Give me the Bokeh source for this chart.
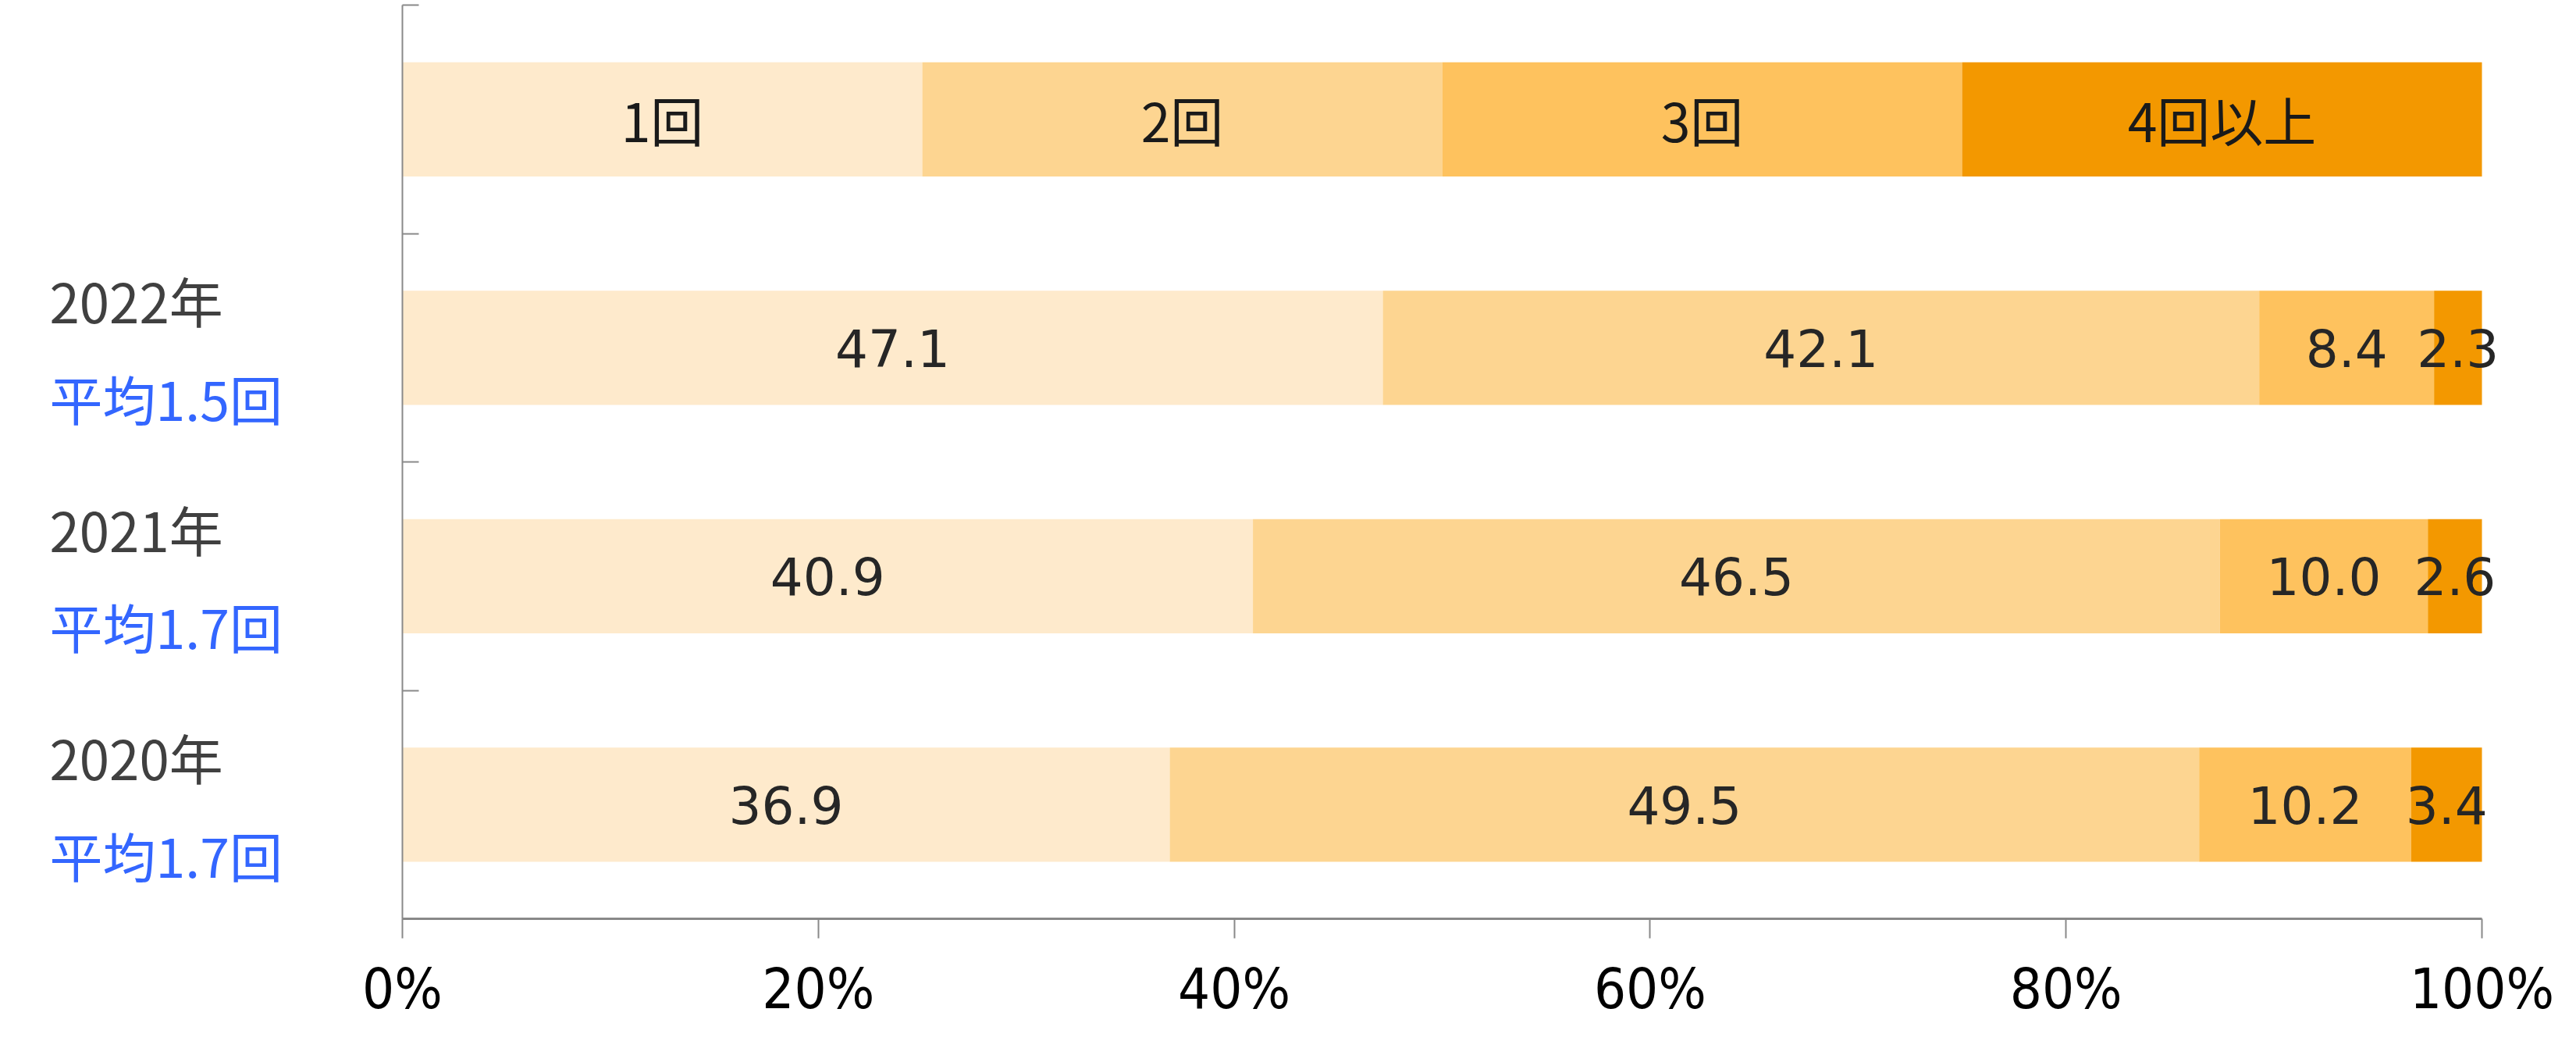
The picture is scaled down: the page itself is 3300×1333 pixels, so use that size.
from bokeh.plotting import figure
from bokeh.models import Range1d, FixedTicker, ColumnDataSource
from bokeh.layouts import row
from bokeh.embed import file_html
from bokeh.resources import INLINE
from bokeh.core.properties import value

# ---- data ----
years = ["2022年", "2021年", "2020年"]
averages = ["平均1.5回", "平均1.7回", "平均1.7回"]
series = ["1回", "2回", "3回", "4回以上"]
s1 = [47.1, 40.9, 36.9]
s2 = [42.1, 46.5, 49.5]
s3 = [8.4, 10.0, 10.2]
s4 = [2.3, 2.6, 3.4]
tick_values = [0, 20, 40, 60, 80, 100]
tick_labels = ["0%", "20%", "40%", "60%", "80%", "100%"]
colors = ["#FEEACC", "#FDD591", "#FEC25E", "#F39800"]

H = 1325
LEFT_W = 435
MAIN_W = 3296 - LEFT_W
TOP, BOTTOM = 6, 149
BORDER_L, BORDER_R = 80, 11
SCALE_W = 2664                      # pixels spanned by 0..100 %
frame_w = MAIN_W - BORDER_L - BORDER_R
x_end = 100 * frame_w / SCALE_W     # room for labels overhanging 100 %

n = len(years)
rows = list(zip(s1, s2, s3, s4))
ycent = [n - i - 0.5 for i in range(n)]   # band centres for years
legend_y = n + 0.5                       # legend row on top
yr = Range1d(0, n + 1)

# ---------------- main chart ----------------
p = figure(width=MAIN_W, height=H, output_backend="svg", toolbar_location=None,
           x_range=Range1d(0, x_end), y_range=yr,
           min_border_left=BORDER_L, min_border_right=BORDER_R, min_border_top=TOP,
           min_border_bottom=BOTTOM)
p.outline_line_color = None
p.xgrid.visible = False
p.ygrid.visible = False

lab_x, lab_y, lab_t = [], [], []
lw = 100 / len(series)
for k in range(4):
    lefts, rights, ys = [], [], []
    for i, r in enumerate(rows):
        tot = sum(r)
        left = sum(r[:k]) / tot * 100
        right = sum(r[:k + 1]) / tot * 100
        lefts.append(left); rights.append(right); ys.append(ycent[i])
        lab_x.append((left + right) / 2); lab_y.append(ycent[i])
        lab_t.append(f"{r[k]:.1f}")
    lefts.append(k * lw); rights.append((k + 1) * lw); ys.append(legend_y)
    p.hbar(y=ys, left=lefts, right=rights, height=0.5, color=colors[k], line_color=None)

src = ColumnDataSource(dict(x=lab_x, y=lab_y, t=lab_t))
p.text(x="x", y="y", text="t", source=src, text_align="center", text_baseline="middle",
       text_font=value("DejaVu Sans"), text_font_size="66px", text_color="#262626")

lsrc = ColumnDataSource(dict(x=[(k + 0.5) * lw for k in range(len(series))],
                             y=[legend_y] * len(series), t=series))
p.text(x="x", y="y", text="t", source=lsrc, text_align="center", text_baseline="middle",
       text_font=value("Noto Sans CJK JP"), text_font_size="68px", text_color="#1a1a1a")

xa = p.xaxis[0]
xa.bounds = (0, 100)
xa.ticker = FixedTicker(ticks=tick_values)
xa.major_label_overrides = {v: t for v, t in zip(tick_values, tick_labels)}
xa.major_label_text_font = "DejaVu Sans Condensed"
xa.major_label_text_font_size = "72px"
xa.major_label_text_color = "black"
xa.axis_line_color = "#898989"
xa.axis_line_width = 3
xa.major_tick_line_color = "#898989"
xa.major_tick_line_width = 2
xa.major_tick_out = 25
xa.major_tick_in = 0
xa.minor_tick_line_color = None
xa.major_label_standoff = 22

ya = p.yaxis[0]
yticks = list(range(n + 2))
ya.ticker = FixedTicker(ticks=yticks)
ya.major_label_overrides = {t: "" for t in yticks}
ya.axis_line_color = "#898989"
ya.axis_line_width = 2
ya.major_tick_line_color = "#898989"
ya.major_tick_line_width = 2
ya.major_tick_in = 21
ya.major_tick_out = 0
ya.major_label_standoff = 0
ya.minor_tick_line_color = None

# ---------------- category labels (left panel) ----------------
q = figure(width=LEFT_W, height=H, output_backend="svg", toolbar_location=None,
           x_range=Range1d(0, LEFT_W), y_range=yr,
           min_border_left=0, min_border_right=0, min_border_top=TOP,
           min_border_bottom=BOTTOM)
q.axis.visible = False
q.grid.visible = False
q.outline_line_color = None

band_px = (H - TOP - BOTTOM) / (n + 1)
up, down = 61 / band_px, 64 / band_px
ysrc = ColumnDataSource(dict(x=[63] * n, y=[c + up for c in ycent], t=years))
asrc = ColumnDataSource(dict(x=[63] * n, y=[c - down for c in ycent], t=averages))
q.text(x="x", y="y", text="t", source=ysrc, text_align="left", text_baseline="middle",
       text_font=value("Noto Sans CJK JP"), text_font_size="69px", text_color="#404040")
q.text(x="x", y="y", text="t", source=asrc, text_align="left", text_baseline="middle",
       text_font=value("Noto Sans CJK JP"), text_font_size="68px", text_color="#3366FF")

layout = row(q, p, spacing=0)
open("out.html", "w").write(file_html(layout, INLINE))
